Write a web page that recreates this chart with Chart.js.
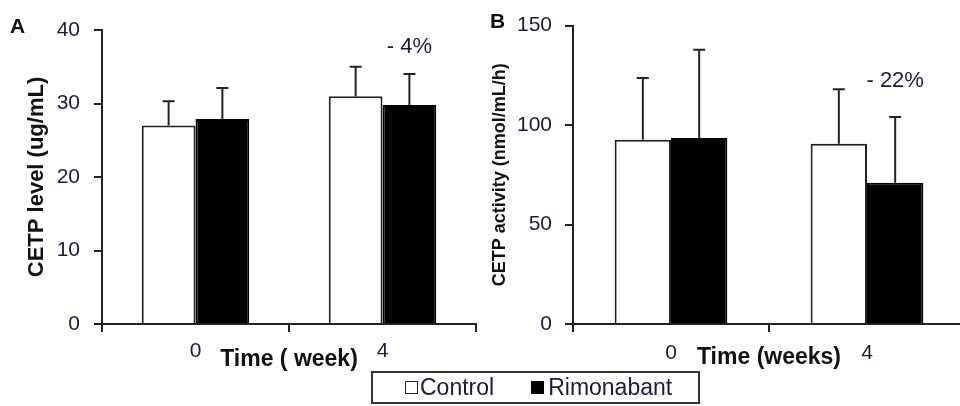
<!DOCTYPE html>
<html>
<head>
<meta charset="utf-8">
<script src="https://cdn.jsdelivr.net/npm/chart.js@4.4.0/dist/chart.umd.min.js"></script>
<style>
  body { margin: 0; width: 960px; height: 406px; overflow: hidden; background: #fff; position: relative; font-family: 'Liberation Sans', Arial, sans-serif; }
  .panel { position: absolute; top: 0; height: 406px; }
  #panelA { left: 0; width: 480px; }
  #panelB { left: 480px; width: 490px; }
  .letter { position: absolute; font-weight: bold; font-size: 21px; line-height: 1; color: #111; }
  #legend { position: absolute; left: 371px; top: 371px; width: 329px; height: 33px; box-sizing: border-box;
    border: 2px solid #333; display: flex; align-items: center; padding-left: 32px; font-size: 23px; color: #1a1a3a; }
  .sw { display: inline-block; width: 11px; height: 11px; border: 1.5px solid #222; background: #fff; margin-right: 2px; }
  .sw.fill { background: #000; margin-left: 37px; width: 13px; height: 13px; border: 0; margin-right: 4px; }
</style>
</head>
<body>
<div id="panelA" class="panel"><canvas id="chartA"></canvas></div>
<div id="panelB" class="panel"><canvas id="chartB"></canvas></div>
<div class="letter" style="left:10px;top:15px">A</div>
<div class="letter" style="left:490px;top:10px">B</div>
<div id="legend"></div>
<script>
const categories = ['0', '4'];
const seriesNames = ['Control', 'Rimonabant'];

// panel A: CETP level (ug/mL)
const levelControl = [27.0, 31.0];
const levelControlErr = [3.3, 4.0];
const levelRimonabant = [27.9, 29.8];
const levelRimonabantErr = [4.2, 4.2];
const levelTicks = [0, 10, 20, 30, 40];
const levelChange = '- 4%';

// panel B: CETP activity (nmol/mL/h)
const activityControl = [92.6, 90.6];
const activityControlErr = [31.1, 27.4];
const activityRimonabant = [93.5, 71.0];
const activityRimonabantErr = [44.4, 33.0];
const activityTicks = [0, 50, 100, 150];
const activityChange = '- 22%';

const FONT = "'Liberation Sans', Arial, sans-serif";
const INK = '#222';

// legend shared by both panels
document.getElementById('legend').innerHTML =
  '<span class="sw"></span>' + seriesNames[0] + '<span class="sw fill"></span>' + seriesNames[1];

// upper error bars + the % change text over one bar
const errorBars = {
  id: 'errorBars',
  afterDatasetsDraw(chart, args, opts) {
    const { ctx } = chart;
    const y = chart.scales.y;
    ctx.save();
    ctx.strokeStyle = INK;
    ctx.lineWidth = 2;
    chart.data.datasets.forEach((ds, i) => {
      chart.getDatasetMeta(i).data.forEach((bar, j) => {
        const top = y.getPixelForValue(ds.data[j] + ds.errors[j]);
        ctx.beginPath();
        ctx.moveTo(bar.x, bar.y);
        ctx.lineTo(bar.x, top);
        ctx.moveTo(bar.x - 6, top);
        ctx.lineTo(bar.x + 6, top);
        ctx.stroke();
      });
    });
    if (opts.text) {
      const bar = chart.getDatasetMeta(opts.dataset).data[opts.index];
      ctx.fillStyle = '#1a1a3a';
      ctx.font = '22px ' + FONT;
      ctx.textAlign = 'center';
      ctx.textBaseline = 'middle';
      ctx.fillText(opts.text, bar.x, y.getPixelForValue(opts.value));
    }
    ctx.restore();
  }
};

function makeChart(id, cfg) {
  return new Chart(document.getElementById(id), {
    type: 'bar',
    data: {
      labels: categories,
      datasets: [
        { label: seriesNames[0], data: cfg.control, errors: cfg.controlErr,
          backgroundColor: '#fff', borderColor: INK, borderWidth: 2 },
        { label: seriesNames[1], data: cfg.rim, errors: cfg.rimErr,
          backgroundColor: '#000', borderColor: '#000', borderWidth: 2 }
      ]
    },
    options: {
      responsive: true,
      maintainAspectRatio: false,
      animation: false,
      categoryPercentage: 0.575,
      barPercentage: 1.0,
      layout: { padding: cfg.padding },
      plugins: {
        legend: { display: false },
        tooltip: { enabled: false },
        errorBars: { text: cfg.change, dataset: 1, index: 1, value: cfg.changeAt }
      },
      scales: {
        x: {
          grid: { display: true, drawOnChartArea: false, drawTicks: true, tickLength: 8, color: INK, lineWidth: 2, offset: true },
          border: { color: INK, width: 2 },
          ticks: { color: '#1a1a3a', padding: cfg.xTickPad, font: { family: FONT, size: 21 } },
          title: { display: true, text: cfg.xTitle, color: '#111', padding: { top: 0, bottom: 0 },
                   font: { family: FONT, size: 23, weight: 'bold' } },
          afterFit: s => { s.height = cfg.xHeight; }
        },
        y: {
          min: cfg.ticks[0],
          max: cfg.ticks[cfg.ticks.length - 1],
          afterBuildTicks: s => { s.ticks = cfg.ticks.map(v => ({ value: v })); },
          grid: { display: true, drawOnChartArea: false, drawTicks: true, tickLength: 8, color: INK, lineWidth: 2 },
          border: { color: INK, width: 2 },
          ticks: { color: '#1a1a3a', padding: cfg.yTickPad, font: { family: FONT, size: 21 } },
          title: { display: true, text: cfg.yTitle, color: '#111', padding: { top: 4, bottom: 4 },
                   font: { family: FONT, size: cfg.yTitleSize, weight: 'bold' } },
          afterFit: s => { s.width = cfg.yWidth; }
        }
      }
    },
    plugins: [errorBars]
  });
}

makeChart('chartA', {
  control: levelControl, controlErr: levelControlErr,
  rim: levelRimonabant, rimErr: levelRimonabantErr,
  ticks: levelTicks, change: levelChange, changeAt: 37.7,
  xTitle: 'Time ( week)', yTitle: 'CETP level (ug/mL)', yTitleSize: 22,
  padding: { left: 20, top: 30, right: 4, bottom: 33 },
  yWidth: 82, xHeight: 49, xTickPad: 7, yTickPad: 14
});

makeChart('chartB', {
  control: activityControl, controlErr: activityControlErr,
  rim: activityRimonabant, rimErr: activityRimonabantErr,
  ticks: activityTicks, change: activityChange, changeAt: 122,
  xTitle: 'Time (weeks)', yTitle: 'CETP activity (nmol/mL/h)', yTitleSize: 18,
  padding: { left: 5, top: 14, right: 5, bottom: 35 },
  yWidth: 88, xHeight: 47, xTickPad: 9, yTickPad: 13
});
</script>
</body>
</html>
